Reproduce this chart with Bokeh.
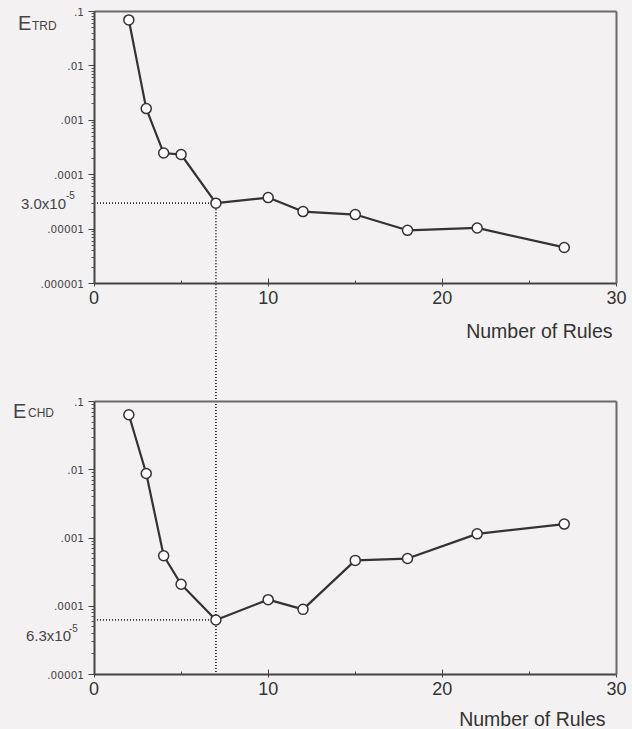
import math
from bokeh.plotting import figure
from bokeh.layouts import column
from bokeh.models import FixedTicker, Label, LinearAxis, Range1d
from bokeh.embed import file_html
from bokeh.resources import INLINE

# ---- data ----
rules = [2, 3, 4, 5, 7, 10, 12, 15, 18, 22, 27]
e_trd = [7.0e-2, 1.64e-3, 2.5e-4, 2.35e-4, 3.0e-5, 3.8e-5, 2.1e-5, 1.85e-5, 9.5e-6, 1.05e-5, 4.6e-6]
e_chd = [6.4e-2, 8.8e-3, 5.5e-4, 2.1e-4, 6.3e-5, 1.25e-4, 9.0e-5, 4.7e-4, 5.0e-4, 1.15e-3, 1.6e-3]
sel_rules = 7
sel_trd = 3.0e-5
sel_chd = 6.3e-5
x_lo, x_hi = 0, 30
x_ticks = [0, 10, 20, 30]
x_minor = [5, 15, 25]
trd_ticks = [1e-1, 1e-2, 1e-3, 1e-4, 1e-5, 1e-6]
trd_labels = [".1", ".01", ".001", ".0001", ".00001", ".000001"]
chd_ticks = [1e-1, 1e-2, 1e-3, 1e-4, 1e-5]
chd_labels = [".1", ".01", ".001", ".0001", ".00001"]
x_title = "Number of Rules"

BG = "#f3f1f2"
INK = "#333333"
AX = "#444444"
FONT = "Liberation Sans"
W = 632


def panel(vals, yticks, ylabels, sel_val, name_sub, sel_text, H,
          box, lab, guide_up):
    # box = (left_px, right_px, top_px, bottom_px) of the plotting box in this canvas
    L, R, T, B = box
    y_lo, y_hi = min(yticks), max(yticks)
    ppx = (x_hi - x_lo) / (R - L)
    xr = Range1d(x_lo - L * ppx, x_hi + (W - R) * ppx)
    dpp = (math.log10(y_hi) - math.log10(y_lo)) / (B - T)
    y_start = 10 ** (math.log10(y_lo) - (H - B) * dpp)
    y_end = 10 ** (math.log10(y_hi) + T * dpp)
    yr = Range1d(y_start, y_end)

    p = figure(width=W, height=H, x_range=xr, y_range=yr, y_axis_type="log",
               output_backend="svg", toolbar_location=None,
               min_border=0, min_border_left=0, min_border_right=0,
               min_border_top=0, min_border_bottom=0)
    p.background_fill_color = BG
    p.border_fill_color = BG
    p.outline_line_color = None
    p.grid.visible = False

    xa = p.xaxis[0]
    xa.fixed_location = y_lo
    xa.bounds = (x_lo, x_hi)
    xa.ticker = FixedTicker(ticks=x_ticks, minor_ticks=x_minor)
    xa.axis_line_width = 2
    xa.axis_line_color = AX
    xa.major_tick_in = 5
    xa.major_tick_out = 3
    xa.minor_tick_in = 3
    xa.minor_tick_out = 0
    xa.major_tick_line_color = AX
    xa.minor_tick_line_color = AX
    xa.major_label_text_font = FONT
    xa.major_label_text_font_size = "18px"
    xa.major_label_text_color = INK
    xa.major_label_standoff = 4

    minors = [m * 10.0 ** e for e in range(-7, 0) for m in range(2, 10)
              if y_lo < m * 10.0 ** e < y_hi]
    ya = p.yaxis[0]
    ya.fixed_location = x_lo
    ya.bounds = (y_lo, y_hi)
    ya.ticker = FixedTicker(ticks=yticks, minor_ticks=minors)
    ya.major_label_overrides = dict(zip(yticks, ylabels))
    ya.axis_line_width = 2
    ya.axis_line_color = AX
    ya.major_tick_in = 0
    ya.major_tick_out = 6
    ya.minor_tick_in = 0
    ya.minor_tick_out = 3
    ya.major_tick_line_color = AX
    ya.minor_tick_line_color = "#555555"
    ya.major_label_text_font = "DejaVu Sans"
    ya.major_label_text_font_size = "10.5px"
    ya.major_label_text_color = AX
    ya.major_label_standoff = 4

    # top and right edges of the box, as bare axes
    top_ax = LinearAxis(fixed_location=y_hi, bounds=(x_lo, x_hi),
                        ticker=FixedTicker(ticks=[], minor_ticks=[]),
                        axis_line_color="#6a6a6a", axis_line_width=2,
                        major_tick_line_color=None, minor_tick_line_color=None,
                        major_label_text_font_size="0px")
    p.add_layout(top_ax, "above")
    right_ax = LinearAxis(fixed_location=x_hi, bounds=(y_lo, y_hi),
                          ticker=FixedTicker(ticks=[], minor_ticks=[]),
                          axis_line_color="#6a6a6a", axis_line_width=2,
                          major_tick_line_color=None, minor_tick_line_color=None,
                          major_label_text_font_size="0px")
    p.add_layout(right_ax, "right")

    # dotted guide lines (the vertical one runs on through the gap between panels)
    p.line([x_lo, sel_rules], [sel_val, sel_val],
           line_dash="1 2", line_width=1.8, line_color=INK)
    if guide_up:
        p.line([sel_rules, sel_rules], [y_end * 100, y_lo],
               line_dash="1 2", line_width=1.8, line_color=INK)
    else:
        p.line([sel_rules, sel_rules], [sel_val, y_start / 100],
               line_dash="1 2", line_width=1.8, line_color=INK)

    p.line(rules, vals, line_width=2.2, line_color=INK)
    p.scatter(rules, vals, marker="circle", size=10, fill_color="white",
              line_color=INK, line_width=1.5)

    # texts
    p.add_layout(Label(x=x_lo, y=y_hi, x_offset=lab["E"][0], y_offset=lab["E"][1],
                       text="E", text_font=FONT, text_font_size="20px",
                       text_color=AX, text_baseline="alphabetic"))
    p.add_layout(Label(x=x_lo, y=y_hi, x_offset=lab["sub"][0], y_offset=lab["sub"][1],
                       text=name_sub, text_font=FONT, text_font_size="12px",
                       text_color=AX, text_baseline="alphabetic"))
    p.add_layout(Label(x=x_lo, y=sel_val, x_offset=lab["sel"][0], y_offset=lab["sel"][1],
                       text=sel_text, text_font=FONT, text_font_size="15px",
                       text_color=AX, text_baseline="middle"))
    p.add_layout(Label(x=x_lo, y=sel_val, x_offset=lab["exp"][0], y_offset=lab["exp"][1],
                       text="-5", text_font=FONT, text_font_size="10px",
                       text_color=AX, text_baseline="middle"))
    p.add_layout(Label(x=x_hi, y=y_lo, x_offset=lab["xt"][0], y_offset=lab["xt"][1],
                       text=x_title, text_font=FONT, text_font_size="19.5px",
                       text_color=INK, text_align="right", text_baseline="top"))
    return p


H1 = 345
H2 = 729 - H1
top = panel(e_trd, trd_ticks, trd_labels, sel_trd, "TRD", "3.0x10", H1,
            box=(93.5, 616, 11, 283),
            lab={"E": (-76, -11), "sub": (-62, -14), "sel": (-73, 0),
                 "exp": (-28, 8), "xt": (-4, -36)},
            guide_up=False)
bot = panel(e_chd, chd_ticks, chd_labels, sel_chd, "CHD", "6.3x10", H2,
            box=(93.5, 616, 401 - H1, 674 - H1),
            lab={"E": (-81, -9), "sub": (-66, -11), "sel": (-68, -16),
                 "exp": (-25, -8), "xt": (-11, -33)},
            guide_up=True)

layout = column(top, bot, spacing=0)
html = file_html(layout, INLINE)
html = html.replace("</head>", "<style>body{background:%s}</style></head>" % BG, 1)
open("out.html", "w").write(html)
